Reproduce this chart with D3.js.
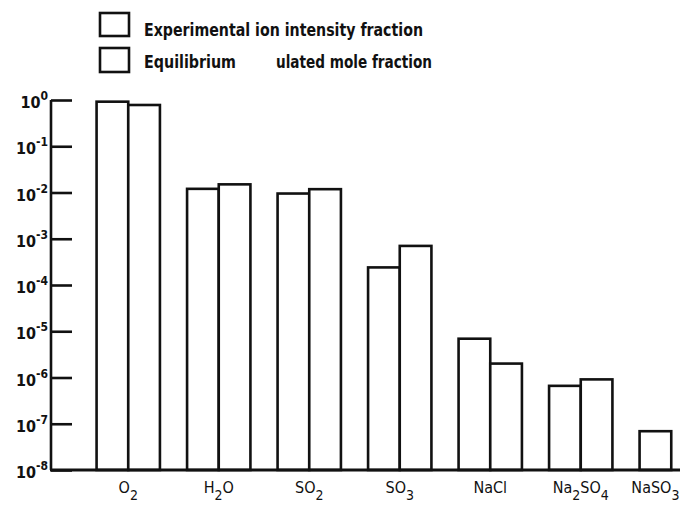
<!DOCTYPE html>
<html><head><meta charset="utf-8">
<script src="https://cdn.jsdelivr.net/npm/d3@7"></script>
<style>
body{margin:0;background:#fff}
svg{display:block}
text{font-family:'Liberation Sans Narrow','DejaVu Sans Condensed','Arial Narrow',sans-serif;fill:#111}
.b{font-weight:bold}
</style>
</head><body><svg id="c" width="687" height="505"></svg>
<script>
// ---- data ----
const categories = ["O2","H2O","SO2","SO3","NaCl","Na2SO4","NaSO3"];
// label pieces: [text, isSubscript]
const categoryLabels = [
  [["O",0],["2",1]],
  [["H",0],["2",1],["O",0]],
  [["SO",0],["2",1]],
  [["SO",0],["3",1]],
  [["NaCl",0]],
  [["Na",0],["2",1],["SO",0],["4",1]],
  [["NaSO",0],["3",1]]
];
const seriesNames = ["Experimental ion intensity fraction", "Equilibrium calculated mole fraction"];
const experimental = [0.92, 0.012, 0.0095, 2.4e-4, 6.9e-6, 6.6e-7, 6.9e-8];
const equilibrium  = [0.78, 0.015, 0.0118, 7.0e-4, 2.0e-6, 9.1e-7, null];
const tickExponents = [0,-1,-2,-3,-4,-5,-6,-7,-8];
const legendLine1 = ["Experimental ion intensity fraction"];
const legendLine2 = ["Equilibrium", "ulated mole fraction"];

// ---- layout ----
const svg = d3.select("#c");
const W = 687;
const axisX = 51, yTop = 100, yBot = 470;

const y = d3.scaleLog().domain([1e-8, 1]).range([yBot, yTop]);
const x0 = d3.scaleBand().domain(categories).range([83, 716.5]).paddingInner(0.3).paddingOuter(0.15);
const x1 = d3.scaleBand().domain(["exp","eq"]).range([0, x0.bandwidth()]);

const rows = categories.map((c,i)=>({c, i, exp: experimental[i], eq: equilibrium[i]}));

// bars
const g = svg.append("g");
rows.forEach(r=>{
  [["exp", r.exp],["eq", r.eq]].forEach(([k,v])=>{
    if(v==null) return;
    g.append("rect")
      .attr("x", x0(r.c)+x1(k))
      .attr("y", y(v))
      .attr("width", x1.bandwidth())
      .attr("height", y(1e-8)-y(v))
      .attr("fill","#fff").attr("stroke","#111").attr("stroke-width",2.6);
  });
});

// y axis with inward ticks
const yAxis = d3.axisRight(y)
  .tickValues(tickExponents.map(e=>Math.pow(10,e)))
  .tickSize(21).tickFormat("");
const ya = svg.append("g").attr("transform",`translate(${axisX},0)`).call(yAxis);
ya.select(".domain").attr("stroke","#111").attr("stroke-width",2.6).attr("d",`M0,${yTop}V${yBot}`);
ya.selectAll(".tick line").attr("stroke","#111").attr("stroke-width",2.6);

// y tick labels
tickExponents.forEach(e=>{
  const t = svg.append("text").attr("class","b")
    .attr("x", axisX-3).attr("y", y(Math.pow(10,e))+8)
    .attr("text-anchor","end").attr("font-size",16);
  t.append("tspan").text("10");
  t.append("tspan").attr("dy",-8).attr("font-size",12).text(String(e).replace("-","\u2011"));
});

// baseline
svg.append("line").attr("x1",axisX-1).attr("x2",W-7).attr("y1",yBot).attr("y2",yBot)
  .attr("stroke","#111").attr("stroke-width",2.8);

// x labels
rows.forEach(r=>{
  let cx;
  if(r.eq==null) cx = x0(r.c)+x1("exp")+x1.bandwidth()/2;
  else cx = x0(r.c)+x0.bandwidth()/2;
  const t = svg.append("text").attr("x",cx).attr("y",493).attr("text-anchor","middle")
    .attr("font-size",16);
  let prevSub = 0;
  categoryLabels[r.i].forEach(([s,sub])=>{
    const dy = sub && !prevSub ? 7 : (!sub && prevSub ? -7 : 0);
    t.append("tspan").attr("dy",dy).attr("font-size", sub?14:16).text(s);
    prevSub = sub;
  });
});

// legend
const lg = svg.append("g");
[[13,36],[48,72]].forEach(([a,b])=>{
  lg.append("rect").attr("x",100).attr("y",a).attr("width",29).attr("height",b-a)
    .attr("fill","#fff").attr("stroke","#111").attr("stroke-width",2.6);
});
lg.append("text").attr("class","b").attr("x",144).attr("y",36).attr("font-size",17)
  .attr("textLength",279).attr("lengthAdjust","spacingAndGlyphs").text(legendLine1[0]);
lg.append("text").attr("class","b").attr("x",144).attr("y",68).attr("font-size",17)
  .attr("textLength",92).attr("lengthAdjust","spacingAndGlyphs").text(legendLine2[0]);
lg.append("text").attr("class","b").attr("x",276).attr("y",68).attr("font-size",17)
  .attr("textLength",156).attr("lengthAdjust","spacingAndGlyphs").text(legendLine2[1]);
</script>
</body></html>
